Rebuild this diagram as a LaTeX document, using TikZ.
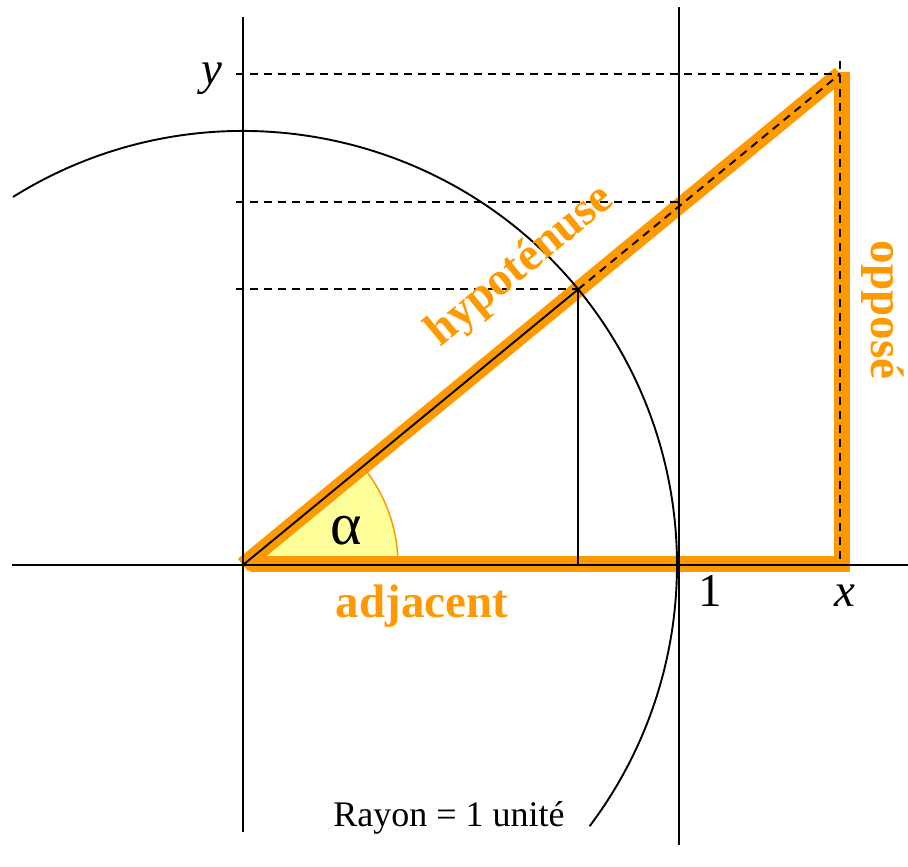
\documentclass[tikz,border=0pt]{standalone}
\usepackage{fontspec}
\setmainfont{Liberation Serif}
\usetikzlibrary{calc}
\definecolor{orng}{RGB}{255,153,0}
\definecolor{lyel}{RGB}{255,255,153}
\begin{document}
\begin{tikzpicture}[x=1pt,y=1pt,
  thinline/.style={line width=1.9pt, black},
  dashline/.style={line width=1.9pt, black, dash pattern=on 8pt off 6pt},
  band/.style={line width=16pt, orng},
  big/.style={font=\fontsize{47}{50}\selectfont, inner sep=0pt},
  lbl/.style={font=\bfseries\fontsize{47}{50}\selectfont, text=orng, inner sep=0pt},
]
\useasboundingbox (0,0) rectangle (908,867);
\coordinate (O) at (243,302);
\coordinate (T) at (840,793);
\coordinate (B) at (840,302);
\coordinate (P) at ($(O)+(39.44:434)$);
\coordinate (Q) at (679,665);
\coordinate (L) at (236,302);
\coordinate (Tv) at (842,795);
\coordinate (Bv) at (842,296);
\coordinate (Bl) at (250,303);
\coordinate (Br) at (850,303);
\coordinate (Vt) at (840,806);
% wedge
\fill[lyel] (O) -- ++(0:155) arc (0:39.44:155) -- cycle;
\draw[orng, line width=1.5pt] ($(O)+(0:155)$) arc (0:39.44:155);
% orange bands
\draw[band] (O) -- (T);
\draw[band] (Tv) -- (Bv);
\draw[band] (Bl) -- (Br);
% axes and lines
\draw[thinline] (243,35) -- (243,850);
\draw[thinline] (12,302) -- (908,302);
\draw[thinline] (679,22) -- (679,860);
\draw[thinline] ($(O)+(122:434)$) arc (122:-37:434);
\draw[thinline] (O) -- (P);
\draw[thinline] (P) -- (P |- O);
% dashed
\draw[dashline] (P) -- (T);
\draw[dashline] (T -| L) -- (T);
\draw[dashline] (Q -| L) -- (Q);
\draw[dashline] (P -| L) -- (P);
\draw[dashline] (Vt) -- (B);
% labels
\node[font=\fontsize{60}{64}\selectfont, inner sep=0pt, anchor=base] (alpha) at (346,322) {α};
\node[big, anchor=base] (ylab) at (212,782) {\itshape y};
\node[big, anchor=base] (one) at (710,260) {1};
\node[big, anchor=base] (xlab) at (845,260) {\itshape x};
\node[lbl, anchor=base] (adj) at (422,249) {adjacent};
\node[lbl, anchor=base, rotate=39.44] (hyp) at (528,592) {hypoténuse};
\node[lbl, anchor=base, rotate=-90] (opp) at (871,557) {opposé};
\node[font=\fontsize{36}{40}\selectfont, inner sep=0pt, anchor=base] (rayon) at (449,40) {Rayon = 1 unité};
\end{tikzpicture}
\end{document}
